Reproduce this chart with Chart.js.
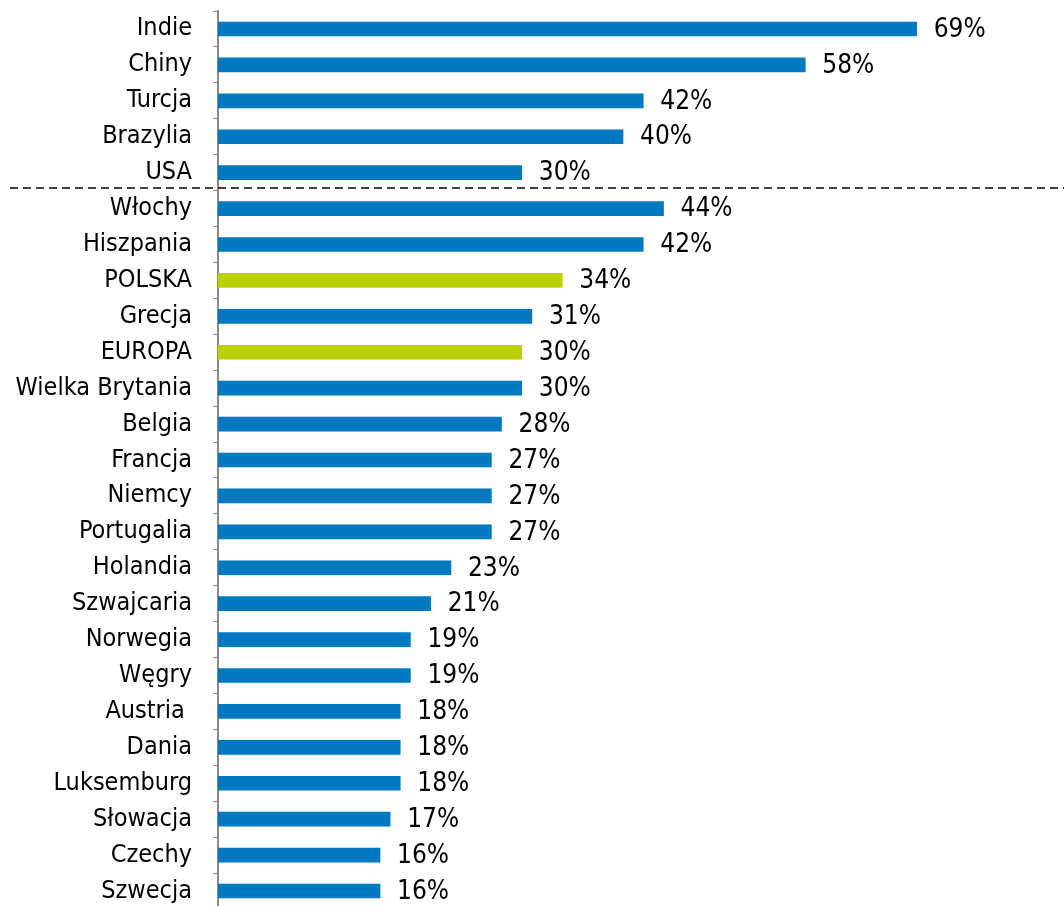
<!DOCTYPE html>
<html>
<head>
<meta charset="utf-8">
<script src="https://cdn.jsdelivr.net/npm/chart.js@4/dist/chart.umd.min.js"></script>
<style>
    html, body { margin: 0; padding: 0; background: #fff; overflow: hidden; }
    #wrap { width: 1064px; height: 909px; position: relative; }
</style>
</head>
<body>
<div id="wrap"><canvas id="chart"></canvas></div>
<script>
// dane
const categories = [
    'Indie', 'Chiny', 'Turcja', 'Brazylia', 'USA',
    'Włochy', 'Hiszpania', 'POLSKA', 'Grecja', 'EUROPA',
    'Wielka Brytania', 'Belgia', 'Francja', 'Niemcy', 'Portugalia',
    'Holandia', 'Szwajcaria', 'Norwegia', 'Węgry', 'Austria ',
    'Dania', 'Luksemburg', 'Słowacja', 'Czechy', 'Szwecja'
];
const values = [
    69, 58, 42, 40, 30,
    44, 42, 34, 31, 30,
    30, 28, 27, 27, 27,
    23, 21, 19, 19, 18,
    18, 18, 17, 16, 16
];
const highlighted = ['POLSKA', 'EUROPA'];
const separatorAfter = 'USA';
const xTicks = [0, 80];

const FONT = '"DejaVu Sans Condensed", "DejaVu Sans", sans-serif';
const BLUE = '#0078C2';
const GREEN = '#BCD000';

// etykiety wartości po prawej stronie słupków
const valueLabels = {
    id: 'valueLabels',
    afterDatasetsDraw(chart) {
        const ctx = chart.ctx;
        const meta = chart.getDatasetMeta(0);
        ctx.save();
        ctx.font = '26px ' + FONT;
        ctx.fillStyle = '#000';
        ctx.textAlign = 'left';
        ctx.textBaseline = 'middle';
        meta.data.forEach((bar, i) => {
            ctx.fillText(values[i] + '%', bar.x + 17, bar.y + 1);
        });
        ctx.restore();
    }
};

// przerywana linia oddzielająca kraje spoza Europy
const separator = {
    id: 'separator',
    afterDraw(chart) {
        const y = chart.scales.y;
        const i = categories.indexOf(separatorAfter);
        const py = (y.getPixelForValue(i) + y.getPixelForValue(i + 1)) / 2 - 2.5;
        const ctx = chart.ctx;
        ctx.save();
        ctx.strokeStyle = '#000';
        ctx.lineWidth = 1.5;
        ctx.setLineDash([8, 5]);
        ctx.beginPath();
        ctx.moveTo(10, py);
        ctx.lineTo(chart.width, py);
        ctx.stroke();
        ctx.restore();
    }
};

new Chart(document.getElementById('chart'), {
    type: 'bar',
    data: {
        labels: categories,
        datasets: [{
            data: values,
            backgroundColor: categories.map(c => highlighted.includes(c) ? GREEN : BLUE),
            borderWidth: 0,
            barThickness: 14
        }]
    },
    options: {
        indexAxis: 'y',
        responsive: true,
        maintainAspectRatio: false,
        animation: false,
        layout: { padding: { top: 11, right: 36, bottom: 0, left: 0 } },
        plugins: {
            legend: { display: false },
            tooltip: { enabled: false }
        },
        scales: {
            x: {
                display: false,
                min: xTicks[0],
                max: xTicks[1]
            },
            y: {
                afterFit(scale) {
                    scale.width = 218;
                    scale.paddingTop = 0;
                    scale.paddingBottom = 0;
                },
                grid: {
                    offset: true,
                    drawOnChartArea: false,
                    drawTicks: true,
                    tickLength: 5,
                    color: '#8a8a8a'
                },
                border: { color: '#8a8a8a', width: 2 },
                ticks: {
                    padding: 21,
                    color: '#000',
                    font: { family: FONT, size: 25 }
                }
            }
        }
    },
    plugins: [valueLabels, separator]
});
</script>
</body>
</html>
